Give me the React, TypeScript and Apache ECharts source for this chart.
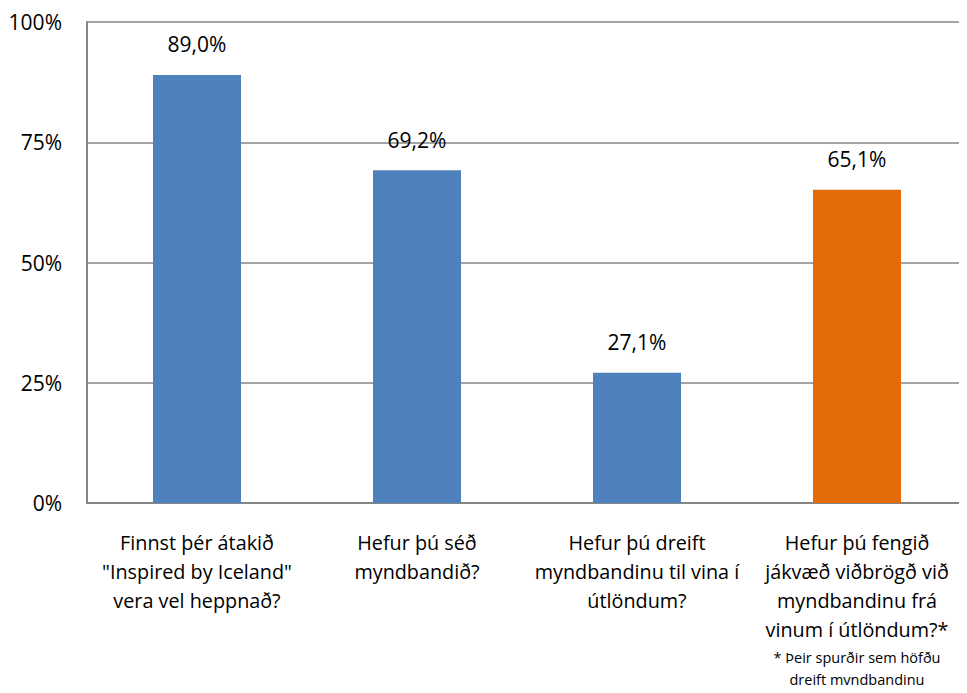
import React, { useEffect, useRef } from "react";
import * as echarts from "echarts";

const categories = [
  "Finnst þér átakið\n\"Inspired by Iceland\"\nvera vel heppnað?",
  "Hefur þú séð\nmyndbandið?",
  "Hefur þú dreift\nmyndbandinu til vina í\nútlöndum?",
  "Hefur þú fengið\njákvæð viðbrögð við\nmyndbandinu frá\nvinum í útlöndum?*",
];
const values = [89.0, 69.2, 27.1, 65.1];
const barColors = ["#4F81BD", "#4F81BD", "#4F81BD", "#E36C09"];
const footnote = ["* Þeir spurðir sem höfðu", "dreift myndbandinu"];
const yTicks = [0, 25, 50, 75, 100];

export default function App() {
  const ref = useRef<HTMLDivElement>(null);
  useEffect(() => {
    if (!ref.current) return;
    const chart = echarts.init(ref.current, null, { renderer: "svg" });
    const font = "'Open Sans', sans-serif";
    chart.setOption({
      animation: false,
      grid: { left: 87, right: -9, top: 22, bottom: 190, containLabel: false },
      xAxis: {
        type: "category",
        data: categories,
        axisTick: { show: false },
        axisLine: { lineStyle: { color: "#868686", width: 2 } },
        axisLabel: {
          interval: 0,
          margin: 25,
          color: "#000",
          fontFamily: font,
          fontSize: 19.8,
          lineHeight: 29,
          formatter: (v: string, i: number) => {
            const main = v.split("\n").map((l) => `{m|${l}}`).join("\n");
            if (i === 3) return main + `\n{s1|${footnote[0]}}\n{s2|${footnote[1]}}`;
            return main;
          },
          rich: {
            m: { fontFamily: font, fontSize: 19.8, lineHeight: 29, color: "#000" },
            s1: { fontFamily: font, fontSize: 14.5, lineHeight: 27, color: "#000" },
            s2: { fontFamily: font, fontSize: 14.5, lineHeight: 17, color: "#000" },
          },
        },
      },
      yAxis: {
        type: "value",
        min: 0,
        max: 100,
        interval: 25,
        axisLine: { show: true, lineStyle: { color: "#868686", width: 2 } },
        axisTick: { show: false },
        splitLine: { lineStyle: { color: "#868686", width: 1.5 } },
        axisLabel: {
          margin: 25,
          color: "#000",
          fontFamily: font,
          fontSize: 21,
          formatter: (v: number) => (yTicks.includes(v) ? `${v}%` : ""),
        },
      },
      series: [
        {
          type: "bar",
          barWidth: "40%",
          data: values.map((v, i) => ({ value: v, itemStyle: { color: barColors[i] } })),
          label: {
            show: true,
            position: "top",
            distance: 20,
            color: "#000",
            fontFamily: font,
            fontSize: 21,
            formatter: (p: any) => p.value.toFixed(1).replace(".", ",") + "%",
          },
        },
      ],
    });
    return () => chart.dispose();
  }, []);
  return <div ref={ref} style={{ width: 967, height: 693, margin: -8, overflow: "hidden" }} />;
}
